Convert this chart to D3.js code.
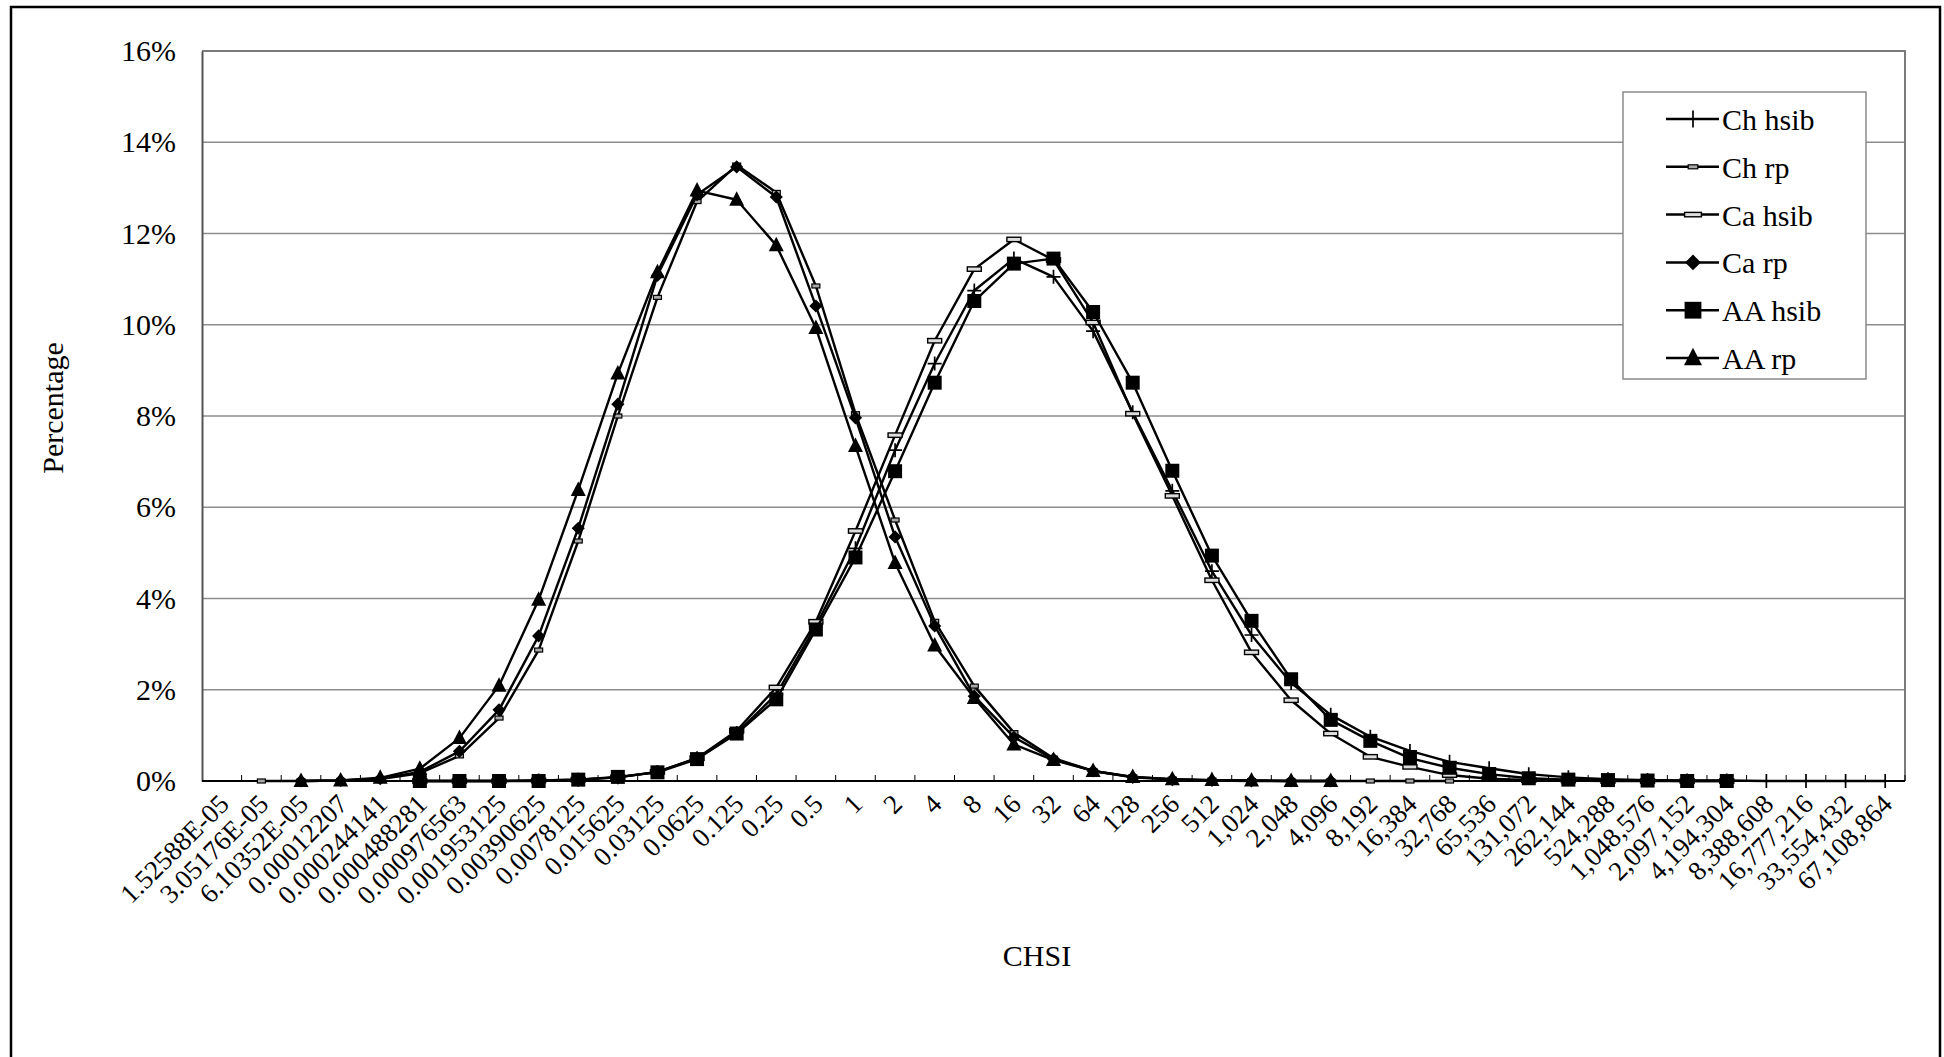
<!DOCTYPE html>
<html>
<head>
<meta charset="utf-8">
<script src="https://cdn.jsdelivr.net/npm/d3@7"></script>
<style>
body { margin: 0; background: #fff; }
text { font-family: "Liberation Serif", "Times New Roman", serif; fill: #000; }
</style>
</head>
<body>
<script>
// CHSI categories (2^-16 .. 2^26)
var categories = ["1.52588E-05", "3.05176E-05", "6.10352E-05", "0.00012207", "0.000244141",
  "0.000488281", "0.000976563", "0.001953125", "0.00390625", "0.0078125", "0.015625",
  "0.03125", "0.0625", "0.125", "0.25", "0.5", "1", "2", "4", "8", "16", "32", "64",
  "128", "256", "512", "1,024", "2,048", "4,096", "8,192", "16,384", "32,768", "65,536",
  "131,072", "262,144", "524,288", "1,048,576", "2,097,152", "4,194,304", "8,388,608",
  "16,777,216", "33,554,432", "67,108,864"];
var yTicks = [0, 2, 4, 6, 8, 10, 12, 14, 16];

// percentages, null = no point
var chHsib = [null, null, null, null, null, 0, 0, 0, 0.01, 0.03, 0.08, 0.2, 0.5, 1.05, 1.9, 3.4,
  5.1, 7.25, 9.15, 10.75, 11.45, 11.05, 9.86, 8.08, 6.36, 4.6, 3.2, 2.15, 1.45, 0.97, 0.66,
  0.42, 0.28, 0.15, 0.08, 0.04, 0.02, 0.01, 0.01, 0, 0, 0, 0];
var chRp = [null, 0, 0, 0.01, 0.04, 0.17, 0.55, 1.38, 2.87, 5.26, 8.0, 10.6, 12.7, 13.5, 12.9,
  10.85, 8.05, 5.72, 3.5, 2.08, 1.06, 0.5, 0.22, 0.09, 0.04, 0.02, 0.01, 0, 0, 0, 0, 0,
  null, null, null, null, null, null, null, null, null, null, null];
var caHsib = [null, null, null, null, null, 0, 0, 0, 0.01, 0.03, 0.08, 0.2, 0.5, 1.1, 2.05, 3.49,
  5.48, 7.58, 9.65, 11.22, 11.87, 11.42, 10.05, 8.05, 6.25, 4.4, 2.82, 1.77, 1.04, 0.53, 0.31,
  0.13, 0.05, 0.02, 0.01, 0, 0, 0, 0, null, null, null, null];
var caRp = [null, null, 0, 0.01, 0.05, 0.2, 0.65, 1.56, 3.18, 5.54, 8.26, 11.08, 12.85, 13.46,
  12.8, 10.41, 7.96, 5.35, 3.4, 1.86, 0.96, 0.48, 0.22, 0.08, 0.03, 0.01, 0, 0, 0,
  null, null, null, null, null, null, null, null, null, null, null, null, null, null, null];
var aaHsib = [null, null, null, null, null, 0, 0, 0, 0, 0.03, 0.09, 0.19, 0.48, 1.04, 1.79, 3.32,
  4.9, 6.79, 8.73, 10.52, 11.34, 11.45, 10.28, 8.73, 6.8, 4.94, 3.51, 2.23, 1.34, 0.88, 0.5,
  0.29, 0.15, 0.06, 0.03, 0.02, 0.01, 0, 0, null, null, null, null];
var aaRp = [null, null, 0, 0.01, 0.07, 0.27, 0.94, 2.09, 3.97, 6.38, 8.93, 11.15, 12.94, 12.74,
  11.74, 9.93, 7.34, 4.78, 2.97, 1.82, 0.8, 0.46, 0.22, 0.09, 0.04, 0.02, 0.01, 0, 0,
  null, null, null, null, null, null, null, null, null, null, null, null, null, null, null];

var seriesNames = ["Ch hsib", "Ch rp", "Ca hsib", "Ca rp", "AA hsib", "AA rp"];
var seriesValues = [chHsib, chRp, caHsib, caRp, aaHsib, aaRp];
var markerTypes = ["plus", "smalldash", "dash", "diamond", "square", "triangle"];

var W = 1944, H = 1057;
var pLeft = 202, pRight = 1905, pTop = 51, pBottom = 781;

var svg = d3.select("body").append("svg").attr("width", W).attr("height", H);

// outer frame
svg.append("rect").attr("x", 11).attr("y", 7).attr("width", 1929).attr("height", 1060)
  .attr("fill", "none").attr("stroke", "#000").attr("stroke-width", 2.5);

var x = d3.scaleBand().domain(categories).range([pLeft, pRight]).paddingInner(0).paddingOuter(0);
var y = d3.scaleLinear().domain([0, 16]).range([pBottom, pTop]);
var cx = function(i) { return x(categories[i]) + x.bandwidth() / 2; };

// gridlines
svg.append("g").selectAll("line").data(yTicks.filter(function(d) { return d > 0 && d < 16; }))
  .enter().append("line")
  .attr("x1", pLeft).attr("x2", pRight)
  .attr("y1", function(d) { return y(d); }).attr("y2", function(d) { return y(d); })
  .attr("stroke", "#8c8c8c").attr("stroke-width", 1.5);

// plot area border (top, right)
svg.append("path").attr("d", "M" + pLeft + "," + y(16) + "H" + pRight + "V" + pBottom)
  .attr("fill", "none").attr("stroke", "#7a7a7a").attr("stroke-width", 2);

// y axis
var yAxis = svg.append("g").attr("transform", "translate(" + pLeft + ",0)")
  .call(d3.axisLeft(y).tickValues(yTicks).tickSize(0).tickPadding(26)
    .tickFormat(function(d) { return d + "%"; }));
yAxis.select(".domain").attr("stroke", "#555").attr("stroke-width", 2);
yAxis.selectAll("text").style("font-family", "'Liberation Serif', serif").style("font-size", "30px");

// x axis
var xAxis = svg.append("g").attr("transform", "translate(0," + pBottom + ")");
xAxis.append("line").attr("x1", pLeft).attr("x2", pRight).attr("y1", 0).attr("y2", 0)
  .attr("stroke", "#000").attr("stroke-width", 2);
xAxis.selectAll(".tick").data(d3.range(1, categories.length + 1)).enter().append("line")
  .attr("x1", function(k) { return pLeft + k * x.bandwidth(); })
  .attr("x2", function(k) { return pLeft + k * x.bandwidth(); })
  .attr("y1", 0).attr("y2", -6).attr("stroke", "#000").attr("stroke-width", 1);
xAxis.selectAll(".lbl").data(categories).enter().append("text")
  .attr("transform", function(d, i) {
    return "translate(" + (cx(i) + 2) + ",18) rotate(-45)";
  })
  .attr("text-anchor", "end").attr("dy", "0.35em")
  .style("font-size", "27px")
  .text(function(d) { return d; });

// axis titles
svg.append("text").attr("x", 1037).attr("y", 966).attr("text-anchor", "middle")
  .style("font-size", "30px").text("CHSI");
svg.append("text").attr("transform", "translate(63,408) rotate(-90)").attr("text-anchor", "middle")
  .style("font-size", "30px").text("Percentage");

// marker drawing
function drawMarker(g, type, big) {
  var k = big ? 1.2 : 1;
  if (type == "plus") {
    g.append("path").attr("d", "M" + (-7 * k) + ",0H" + (7 * k) + "M0," + (-7 * k) + "V" + (7 * k))
      .attr("stroke", "#000").attr("stroke-width", 1.7).attr("fill", "none");
  } else if (type == "smalldash") {
    g.append("rect").attr("x", -4 * k).attr("y", -2).attr("width", 8 * k).attr("height", 4)
      .attr("fill", "#aaa").attr("stroke", "#000").attr("stroke-width", 1.2);
  } else if (type == "dash") {
    g.append("rect").attr("x", -7 * k).attr("y", -2.2).attr("width", 14 * k).attr("height", 4.4)
      .attr("fill", "#ddd").attr("stroke", "#000").attr("stroke-width", 1.4);
  } else if (type == "diamond") {
    g.append("path").attr("d", d3.symbol(d3.symbolDiamond2, 110 * k * k)()).attr("fill", "#000");
  } else if (type == "square") {
    g.append("path").attr("d", d3.symbol(d3.symbolSquare, 196 * k * k)()).attr("fill", "#000");
  } else if (type == "triangle") {
    g.append("path").attr("d", "M0," + (-8.5 * k) + "L" + (7.5 * k) + "," + (6 * k) + "L" + (-7.5 * k) + "," + (6 * k) + "Z")
      .attr("fill", "#000");
  }
}

var line = d3.line()
  .defined(function(d) { return d.v !== null; })
  .x(function(d) { return cx(d.i); })
  .y(function(d) { return y(d.v); });

var seriesData = seriesValues.map(function(vals) {
  return vals.map(function(v, i) { return { i: i, v: v }; });
});

var plot = svg.append("g");
seriesData.forEach(function(pts, s) {
  plot.append("path").datum(pts).attr("d", line)
    .attr("fill", "none").attr("stroke", "#000").attr("stroke-width", 2.4).attr("stroke-linejoin", "round");
  pts.filter(function(d) { return d.v !== null; }).forEach(function(d) {
    var g = plot.append("g").attr("transform", "translate(" + cx(d.i) + "," + y(d.v) + ")");
    drawMarker(g, markerTypes[s], false);
  });
});

// legend
var legend = svg.append("g");
legend.append("rect").attr("x", 1623).attr("y", 92).attr("width", 243).attr("height", 287)
  .attr("fill", "#fff").attr("stroke", "#8a8a8a").attr("stroke-width", 1.5);
seriesNames.forEach(function(name, s) {
  var ly = 119 + s * 47.8;
  legend.append("line").attr("x1", 1666).attr("x2", 1719).attr("y1", ly).attr("y2", ly)
    .attr("stroke", "#000").attr("stroke-width", 2.5);
  var g = legend.append("g").attr("transform", "translate(1693," + ly + ")");
  drawMarker(g, markerTypes[s], true);
  legend.append("text").attr("x", 1722).attr("y", ly + 11).style("font-size", "30px").text(name);
});
</script>
</body>
</html>
